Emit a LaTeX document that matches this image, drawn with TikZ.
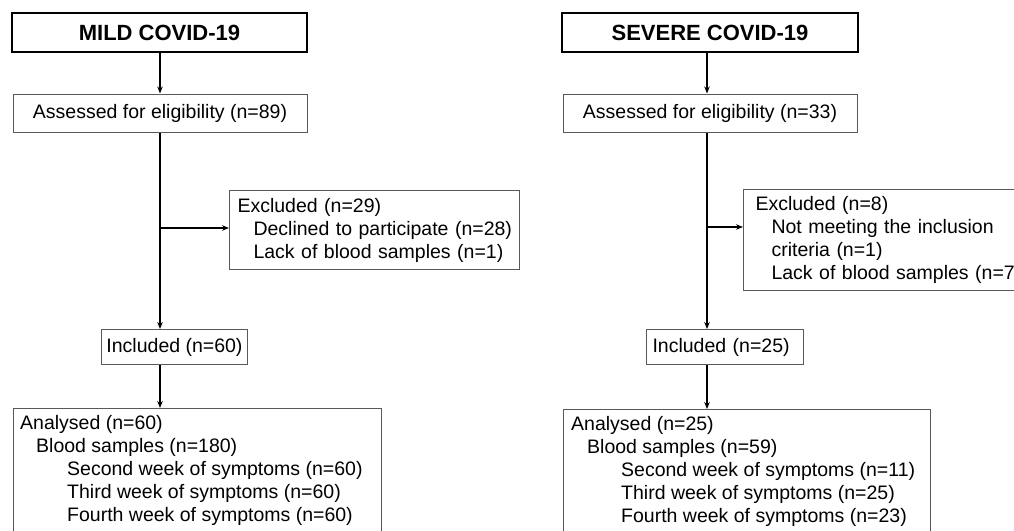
\documentclass[tikz,border=0pt]{standalone}
\usepackage{fontspec}
\setmainfont{Liberation Sans}
\usetikzlibrary{arrows.meta}
\tikzset{
  titlebox/.style={draw=black, line width=2.6pt, font=\bfseries\fontsize{22}{26}\selectfont,
    minimum width=295pt, minimum height=39pt, inner sep=0pt},
  plainbox/.style={draw=black!65, line width=1pt, font=\fontsize{19.5}{23}\selectfont, inner sep=0pt},
  listbox/.style={plainbox, align=left, inner xsep=8pt},
  listtext/.style={font=\fontsize{19.5}{23}\selectfont, align=left, inner sep=0pt, anchor=north west},
  arr/.style={line width=1.2pt, draw=black, -{Stealth[length=7pt,width=5.5pt]}},
}
\begin{document}
\begin{tikzpicture}[x=1pt,y=-1pt]
\useasboundingbox[fill=white] (0,0) rectangle (1014,530);

% ---------- MILD ----------
\coordinate (v1) at (160,0);
\node[titlebox] (title1) at (159.5,32.5) {MILD COVID-19};
\node[plainbox, minimum width=294pt, minimum height=38pt] (assess1) at (160,113) {Assessed for eligibility (n=89)};
\node[listbox, text width=274pt, minimum height=79pt, anchor=north west] (excl1) at (229,190)
  {\mbox{Excluded (n=29)}\\
   \mbox{\hspace*{16pt}Declined to participate (n=28)}\\
   \mbox{\hspace*{16pt}Lack of blood samples (n=1)}};
\node[plainbox, minimum width=146pt, minimum height=35pt, anchor=north west] (incl1) at (101,329) {Included (n=60)};
\node[plainbox, minimum width=368pt, minimum height=160pt, anchor=north west] (anal1) at (13,408) {};
\node[listtext] (anal1t) at (20,415)
  {\mbox{Analysed (n=60)}\\
   \mbox{\hspace*{16pt}Blood samples (n=180)}\\
   \mbox{\hspace*{47pt}Second week of symptoms (n=60)}\\
   \mbox{\hspace*{47pt}Third week of symptoms (n=60)}\\
   \mbox{\hspace*{47pt}Fourth week of symptoms (n=60)}};
\coordinate (b1) at (160,228);

\draw[arr] (v1 |- title1.south) -- (v1 |- assess1.north);
\draw[arr] (v1 |- assess1.south) -- (v1 |- incl1.north);
\draw[arr] (b1) -- (b1 -| excl1.west);
\draw[arr] (v1 |- incl1.south) -- (v1 |- anal1.north);

% ---------- SEVERE ----------
\coordinate (v2) at (707,0);
\node[titlebox, minimum width=296pt] (title2) at (710,32.5) {SEVERE COVID-19};
\node[plainbox, minimum width=294pt, minimum height=38pt] (assess2) at (710,113) {Assessed for eligibility (n=33)};
\node[listbox, inner xsep=12pt, text width=275pt, minimum height=101pt, anchor=north west] (excl2) at (743,189)
  {\mbox{Excluded (n=8)}\\
   \mbox{\hspace*{16pt}Not meeting the inclusion}\\
   \mbox{\hspace*{16pt}criteria (n=1)}\\
   \mbox{\hspace*{16pt}Lack of blood samples (n=7)}};
\node[listbox, inner xsep=6pt, text width=145pt, minimum height=35pt, anchor=north west] (incl2) at (646,329) {\mbox{Included (n=25)}};
\node[plainbox, minimum width=367pt, minimum height=160pt, anchor=north west] (anal2) at (563,409) {};
\node[listtext] (anal2t) at (571,416)
  {\mbox{Analysed (n=25)}\\
   \mbox{\hspace*{16pt}Blood samples (n=59)}\\
   \mbox{\hspace*{50pt}Second week of symptoms (n=11)}\\
   \mbox{\hspace*{50pt}Third week of symptoms (n=25)}\\
   \mbox{\hspace*{50pt}Fourth week of symptoms (n=23)}};
\coordinate (b2) at (707,227);

\draw[arr] (v2 |- title2.south) -- (v2 |- assess2.north);
\draw[arr] (v2 |- assess2.south) -- (v2 |- incl2.north);
\draw[arr] (b2) -- (b2 -| excl2.west);
\draw[arr] (v2 |- incl2.south) -- (v2 |- anal2.north);
\end{tikzpicture}
\end{document}
